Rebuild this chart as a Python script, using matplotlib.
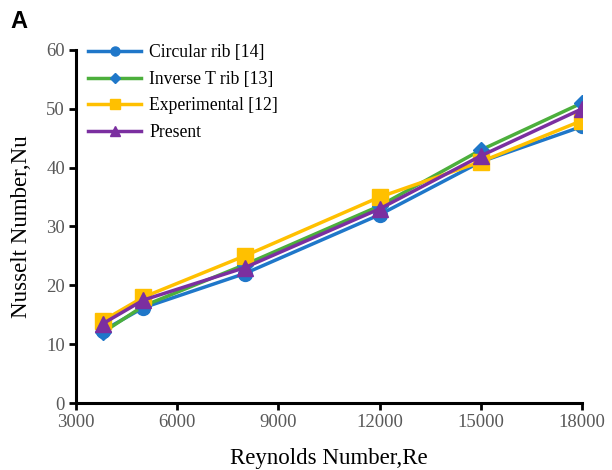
import matplotlib
matplotlib.use("Agg")
import matplotlib.pyplot as plt

re_vals = [3800, 5000, 8000, 12000, 15000, 18000]
circular = [12.3, 16.2, 22.0, 32.0, 41.0, 47.0]
inverse_t = [12.0, 16.5, 23.5, 33.5, 43.0, 51.0]
experimental = [14.0, 18.0, 25.0, 35.0, 41.0, 48.0]
present = [13.5, 17.5, 23.0, 33.0, 42.0, 50.0]
x_ticks = [3000, 6000, 9000, 12000, 15000, 18000]
y_ticks = [0, 10, 20, 30, 40, 50, 60]

plt.rcParams['font.family'] = ['Liberation Serif', 'DejaVu Serif']

fig = plt.figure(figsize=(6.12, 4.70), dpi=100)
ax = fig.add_axes([76/612, 67/470, 506/612, 353/470])

blue = '#1F77C9'
green = '#4CAF3C'
yellow = '#FFC000'
purple = '#7B2FA0'

ax.plot(re_vals, circular, color=blue, lw=2.5, marker='o', ms=10, label='Circular rib [14]', zorder=3)
ax.plot(re_vals, inverse_t, color=green, lw=2.5, marker='D', ms=8.5, mfc=blue, mec=blue, label='Inverse T rib [13]', zorder=3)
ax.plot(re_vals, experimental, color=yellow, lw=2.5, marker='s', ms=11, label='Experimental [12]', zorder=3)
ax.plot(re_vals, present, color=purple, lw=2.5, marker='^', ms=11, label='Present', zorder=4)

ax.set_xlim(3000, 18000)
ax.set_ylim(0, 60)
ax.set_xticks(x_ticks)
ax.set_yticks(y_ticks)
ax.spines['top'].set_visible(False)
ax.spines['right'].set_visible(False)
for s in ('left', 'bottom'):
    ax.spines[s].set_linewidth(2.2)
    ax.spines[s].set_color('black')
ax.tick_params(axis='both', direction='out', length=5, width=2, color='black',
               labelsize=13.5, labelcolor='#595959', pad=3)

ax.set_xlabel('Reynolds Number,Re', fontsize=16.5, color='black', labelpad=12)
ax.set_ylabel('Nusselt Number,Nu', fontsize=16.5, color='black', labelpad=10)

leg = ax.legend(loc='upper left', bbox_to_anchor=(-0.007, 1.062), frameon=False, fontsize=12.7,
                handlelength=3.0, handletextpad=0.45, labelspacing=0.55, markerscale=0.65)

fig.text(10/612, 1 - 28/470, 'A', fontsize=17, fontweight='bold', family='Liberation Sans')

fig.savefig('out.png', dpi=100)
